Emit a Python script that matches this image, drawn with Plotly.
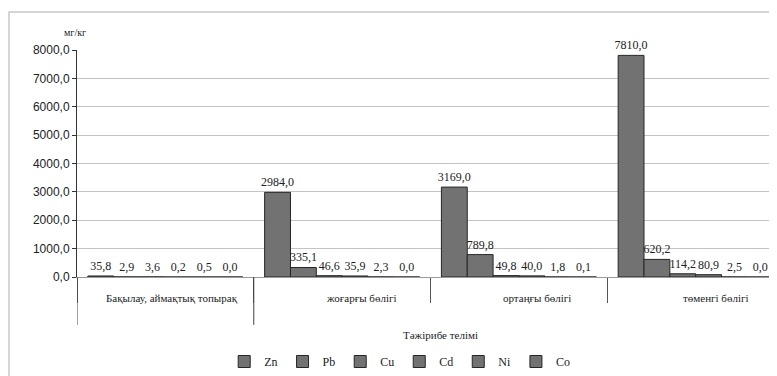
import plotly.graph_objects as go

categories = ["Бақылау, аймақтық топырақ", "жоғарғы бөлігі", "ортаңғы бөлігі", "төменгі бөлігі"]
metals = ["Zn", "Pb", "Cu", "Cd", "Ni", "Co"]
zn = [35.8, 2984.0, 3169.0, 7810.0]
pb = [2.9, 335.1, 789.8, 620.2]
cu = [3.6, 46.6, 49.8, 114.2]
cd = [0.2, 35.9, 40.0, 80.9]
ni = [0.5, 2.3, 1.8, 2.5]
co = [0.0, 0.0, 0.1, 0.0]
series = [zn, pb, cu, cd, ni, co]
yticks = [0, 1000, 2000, 3000, 4000, 5000, 6000, 7000, 8000]
label_shift = [7, 19, 18, 20]

SERIF = "Liberation Serif, Times New Roman, serif"
SANS = "Liberation Sans, Arial, sans-serif"

fig = go.Figure()
for name, vals in zip(metals, series):
    fig.add_trace(go.Bar(
        x=categories, y=vals, name=name,
        marker=dict(color="#727272", line=dict(color="#262626", width=1)),
        texttemplate="%{y:.1f}", textposition="outside",
        textfont=dict(family=SERIF, size=12, color="#222"),
        constraintext="none", cliponaxis=False,
    ))

# page body has an 8px margin, so the figure is offset by (8, 8)
fig.update_layout(
    width=769, height=368,
    margin=dict(l=69, r=0, t=42, b=99),
    paper_bgcolor="white", plot_bgcolor="white",
    separators=", ",
    barmode="group", bargap=0.123, bargroupgap=0,
    showlegend=True,
    legend=dict(orientation="h", x=0.461, xanchor="center", y=-0.374, yanchor="middle",
                font=dict(family=SERIF, size=12, color="#222"), itemwidth=30,
                bgcolor="rgba(0,0,0,0)"),
    xaxis=dict(type="category", range=[-0.5, 3.46], tickson="boundaries",
               ticks="outside", ticklen=25, tickcolor="#555", tickwidth=1,
               showticklabels=False, showgrid=False,
               showline=True, linecolor="#9a9a9a", linewidth=1, zeroline=False),
    yaxis=dict(range=[0, 8000], tickvals=yticks, tickformat=".1f",
               ticks="outside", ticklen=4, tickcolor="#333",
               showline=True, linecolor="#333", linewidth=1,
               showgrid=True, gridcolor="#c4c4c4", gridwidth=1, zeroline=False,
               tickfont=dict(family=SANS, size=12, color="#222")),
)

annotations = []
for cat, sh in zip(categories, label_shift):
    annotations.append(dict(x=cat, xref="x", y=-0.093, yref="paper", text=cat,
                            showarrow=False, xshift=sh, xanchor="center", yanchor="middle",
                            font=dict(family=SERIF, size=11, color="#222")))
annotations.append(dict(x=0.519, xref="paper", y=-0.2555, yref="paper", text="Тәжірибе телімі",
                        showarrow=False, xanchor="center", yanchor="middle",
                        font=dict(family=SERIF, size=11, color="#222")))
annotations.append(dict(x=-0.003, xref="paper", y=1.075, yref="paper", text="мг/кг",
                        showarrow=False, xanchor="center", yanchor="middle",
                        font=dict(family=SERIF, size=10, color="#222")))
fig.update_layout(annotations=annotations)

shapes = []
for b in [-0.5, 0.5]:
    shapes.append(dict(type="line", xref="x", yref="paper", x0=b, x1=b, y0=0, y1=-0.211,
                       line=dict(color="#444", width=1)))
shapes.append(dict(type="rect", xref="paper", yref="paper", x0=-0.0971, x1=1.05, y0=-0.5, y1=1.167,
                   line=dict(color="#c8c8c8", width=1.5), layer="below"))
fig.update_layout(shapes=shapes)

fig.write_html("out.html")
